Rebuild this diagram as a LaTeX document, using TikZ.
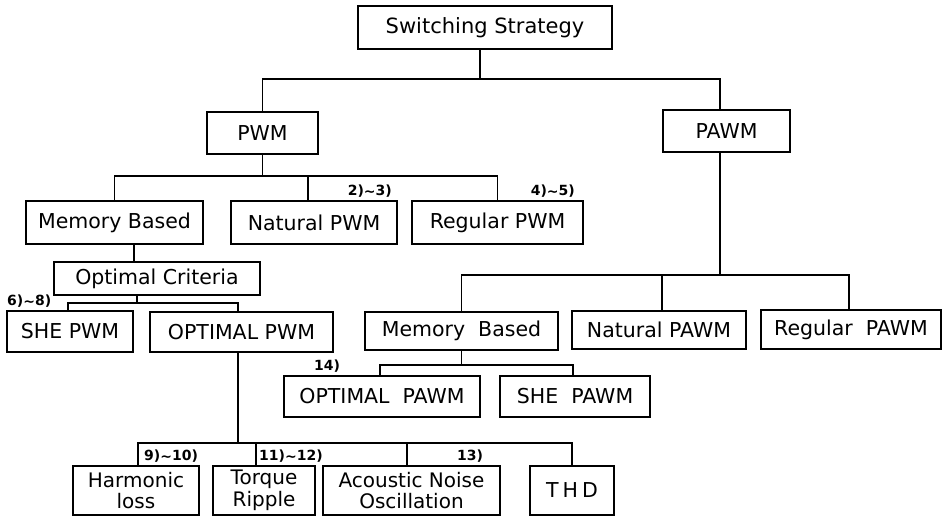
\documentclass[tikz,border=0pt]{standalone}
\usepackage{fontspec}
\setmainfont{DejaVu Sans}
\newcommand{\tld}{\raisebox{-0.5pt}{\textasciitilde}}
\begin{document}
\begin{tikzpicture}[x=1pt,y=1pt,
  bx/.style={draw, line width=1.2pt, inner sep=0pt, font=\fontsize{20.5}{24}\selectfont, align=center},
  two/.style={font=\fontsize{20}{21.5}\selectfont},
  ref/.style={inner sep=0pt, font=\bfseries\fontsize{14}{16}\selectfont},
  ln/.style={line width=1.2pt}]
\useasboundingbox (0,0) rectangle (944,-518);
% nodes
\node[bx, minimum width=254, minimum height=43, font=\fontsize{21}{23}\selectfont] (ss) at (485,-27.5) {Switching Strategy};
\node[bx, minimum width=111, minimum height=42] (pwm) at (262.5,-133) {PWM};
\node[bx, minimum width=127, minimum height=42] (pawm) at (726.5,-131) {PAWM};
\node[bx, minimum width=177, minimum height=43] (mb1) at (114.5,-222.5) {Memory Based};
\node[bx, minimum width=166, minimum height=43] (nat1) at (314,-222.5) {Natural PWM};
\node[bx, minimum width=171, minimum height=43] (reg1) at (497.5,-222.5) {Regular PWM};
\node[bx, minimum width=206, minimum height=33] (oc) at (157,-278.5) {Optimal Criteria};
\node[bx, minimum width=126, minimum height=41] (she1) at (70,-331.5) {SHE PWM};
\node[bx, minimum width=183, minimum height=40] (opt1) at (241.5,-332) {OPTIMAL PWM};
\node[bx, two, minimum width=126, minimum height=49] (harm) at (136,-490.5) {Harmonic\\loss};
\node[bx, two, minimum width=102, minimum height=49] (torq) at (264,-490.5) {Torque\\Ripple};
\node[bx, two, minimum width=177, minimum height=49] (acou) at (411.5,-490.5) {Acoustic Noise\\Oscillation};
\node[bx, minimum width=84, minimum height=49] (thd) at (572,-490.5) {T\kern4pt H\kern4pt D};
\node[bx, minimum width=193, minimum height=38] (mb2) at (461.5,-331) {Memory\ \ Based};
\node[bx, minimum width=174, minimum height=38] (nat2) at (659,-330) {Natural PAWM};
\node[bx, minimum width=180, minimum height=39] (reg2) at (851,-329.5) {Regular\ \ PAWM};
\node[bx, minimum width=196, minimum height=41] (opt2) at (382,-396.5) {OPTIMAL\ \ PAWM};
\node[bx, minimum width=150, minimum height=41] (she2) at (575,-396.5) {SHE\ \ PAWM};
% bus levels
\coordinate (b1) at (0,-79);
\coordinate (b2) at (0,-176);
\coordinate (b3) at (0,-303);
\coordinate (b4) at (0,-443);
\coordinate (b5) at (0,-275);
\coordinate (b6) at (0,-365);
% connectors
\draw[ln] ([xshift=-5pt]ss.south) -- ([xshift=-5pt]ss.south |- b1);
\draw[ln] (pwm.north) |- ([xshift=-6.5pt]pawm.north |- b1) -- ([xshift=-6.5pt]pawm.north);
\draw[ln] (pwm.south) -- (pwm.south |- b2);
\draw[ln] (mb1.north) |- (reg1.north |- b2) -- (reg1.north);
\draw[ln] ([xshift=-6pt]nat1.north) -- ([xshift=-6pt]nat1.north |- b2);
\draw[ln] ([xshift=19.5pt]mb1.south) -- ([xshift=19.5pt]mb1.south |- oc.north);
\draw[ln] ([xshift=-20pt]oc.south) -- ([xshift=-20pt]oc.south |- b3);
\draw[ln] ([xshift=-2pt]she1.north) |- ([xshift=-3.5pt]opt1.north |- b3) -- ([xshift=-3.5pt]opt1.north);
\draw[ln] ([xshift=-3.5pt]opt1.south) -- ([xshift=-3.5pt]opt1.south |- b4);
\draw[ln] ([xshift=2pt]harm.north) |- (thd.north |- b4) -- (thd.north);
\draw[ln] ([xshift=-8pt]torq.north) -- ([xshift=-8pt]torq.north |- b4);
\draw[ln] ([xshift=-4.5pt]acou.north) -- ([xshift=-4.5pt]acou.north |- b4);
\draw[ln] ([xshift=-6.5pt]pawm.south) -- ([xshift=-6.5pt]pawm.south |- b5);
\draw[ln] (mb2.north) |- ([xshift=-2pt]reg2.north |- b5) -- ([xshift=-2pt]reg2.north);
\draw[ln] ([xshift=3pt]nat2.north) -- ([xshift=3pt]nat2.north |- b5);
\draw[ln] (mb2.south) -- (mb2.south |- b6);
\draw[ln] ([xshift=-2pt]opt2.north) |- ([xshift=-2pt]she2.north |- b6) -- ([xshift=-2pt]she2.north);
% reference labels
\node[ref, anchor=south east] (r23) at (392,-198) {2)\tld3)};
\node[ref, anchor=south east] (r45) at (575,-198) {4)\tld5)};
\node[ref, anchor=south west] (r68) at (7,-308) {6)\tld8)};
\node[ref, anchor=south west] (r910) at (144,-463) {9)\tld10)};
\node[ref, anchor=south west] (r1112) at (259,-463) {11)\tld12)};
\node[ref, anchor=south west] (r13) at (457,-463) {13)};
\node[ref, anchor=south west] (r14) at (314,-373) {14)};
\end{tikzpicture}
\end{document}
